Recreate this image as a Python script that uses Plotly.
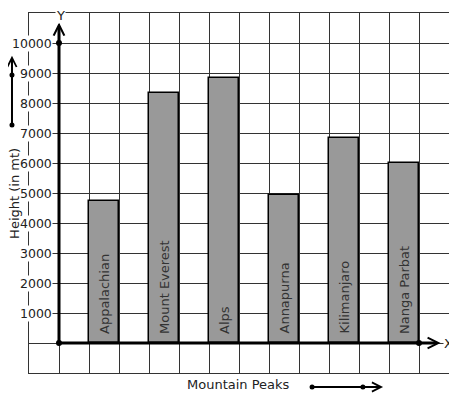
import plotly.graph_objects as go

# ---- data ----
peaks = ["Appalachian", "Mount Everest", "Alps", "Annapurna", "Kilimanjaro", "Nanga Parbat"]
heights = [4750, 8350, 8850, 4950, 6850, 6000]
y_tick_values = [1000, 2000, 3000, 4000, 5000, 6000, 7000, 8000, 9000, 10000]
y_tick_labels = ["1000", "2000", "3000", "4000", "5000", "6000", "7000", "8000", "9000", "10000"]
x_title = "Mountain Peaks"
y_title = "Height (in mt)"

FONT = "DejaVu Sans"
TXT = "#222222"

# bar centres on the grid: every other column
xpos = [1.5 + 2 * i for i in range(len(peaks))]

fig = go.Figure()
fig.add_trace(go.Bar(
    x=xpos, y=heights, width=1,
    marker=dict(color="#999999", line=dict(color="black", width=1.5)),
    hoverinfo="skip", showlegend=False,
))

# axis dots
fig.add_trace(go.Scatter(
    x=[0, 0, 12], y=[0, 10000, 0], mode="markers",
    marker=dict(color="black", size=6), cliponaxis=False,
    hoverinfo="skip", showlegend=False,
))

annotations = []
# y tick labels
for v, t in zip(y_tick_values, y_tick_labels):
    annotations.append(dict(
        x=0, y=v, xref="x", yref="y", text=t, showarrow=False,
        xanchor="right", yanchor="middle", xshift=-6,
        bgcolor="white", borderpad=0,
        font=dict(family=FONT, size=12.5, color=TXT),
    ))
# bar labels
for xp, name in zip(xpos, peaks):
    annotations.append(dict(
        x=xp, y=0, xref="x", yref="y", text=name, showarrow=False,
        textangle=-90, xanchor="center", yanchor="bottom", yshift=7,
        font=dict(family=FONT, size=13, color="#333333"),
    ))
# axis arrows
annotations.append(dict(
    x=0, y=10680, xref="x", yref="y", ax=0, ay=0, axref="x", ayref="y",
    text="", showarrow=True, arrowhead=5, arrowwidth=3, arrowsize=0.7,
    arrowcolor="black", standoff=0,
))
annotations.append(dict(
    x=12.72, y=0, xref="x", yref="y", ax=0, ay=0, axref="x", ayref="y",
    text="", showarrow=True, arrowhead=5, arrowwidth=3, arrowsize=0.7,
    arrowcolor="black", standoff=0,
))
# axis letters
annotations.append(dict(
    x=0.06, y=1.0, xref="x", yref="paper", text="Y", showarrow=False,
    xanchor="center", yanchor="middle", yshift=-2, bgcolor="white", borderpad=0,
    font=dict(family=FONT, size=13, color=TXT),
))
annotations.append(dict(
    x=12.97, y=0, xref="x", yref="y", text="X", showarrow=False,
    xanchor="center", yanchor="middle", bgcolor="white", borderpad=0,
    font=dict(family=FONT, size=13, color=TXT),
))
# axis titles
annotations.append(dict(
    x=-0.036, y=0.5, xref="paper", yref="paper", text=y_title, showarrow=False,
    textangle=-90, xanchor="center", yanchor="middle",
    font=dict(family=FONT, size=13, color=TXT),
))
annotations.append(dict(
    x=0.498, y=-0.033, xref="paper", yref="paper", text=x_title, showarrow=False,
    xanchor="center", yanchor="middle",
    font=dict(family=FONT, size=13, color=TXT),
))
# decorative side arrows
annotations.append(dict(
    x=-0.0405, y=0.881, xref="paper", yref="paper", ax=0, ay=70,
    text="", showarrow=True, arrowhead=5, arrowwidth=2, arrowsize=0.9,
    arrowcolor="black", standoff=0,
))
annotations.append(dict(
    x=0.843, y=-0.0389, xref="paper", yref="paper", ax=-71, ay=0,
    text="", showarrow=True, arrowhead=5, arrowwidth=2, arrowsize=0.9,
    arrowcolor="black", standoff=0,
))

shapes = []
for (px, py) in [(-0.0405, 0.689), (-0.0405, 0.828), (0.674, -0.0389), (0.795, -0.0389)]:
    shapes.append(dict(
        type="circle", xref="paper", yref="paper", xsizemode="pixel", ysizemode="pixel",
        xanchor=px, yanchor=py, x0=-2.5, x1=2.5, y0=-2.5, y1=2.5,
        fillcolor="black", line=dict(color="black", width=0),
    ))

# the page body adds an 8px margin, so the figure is sized to the remaining window
fig.update_layout(
    width=449, height=391,
    margin=dict(l=21, r=8, t=5, b=26, pad=0),
    paper_bgcolor="white", plot_bgcolor="white",
    bargap=0,
    xaxis=dict(range=[-1, 13], tick0=0, dtick=1, showgrid=True, gridcolor="#333333",
               gridwidth=1, zeroline=False, showticklabels=False, ticks="",
               showline=True, mirror=True, linecolor="#333333", linewidth=1,
               fixedrange=True),
    yaxis=dict(range=[-1000, 11000], tick0=0, dtick=1000, showgrid=True, gridcolor="#333333",
               gridwidth=1, zeroline=False, showticklabels=False, ticks="",
               showline=True, mirror=True, linecolor="#333333", linewidth=1,
               fixedrange=True),
    annotations=annotations,
    shapes=shapes,
    font=dict(family=FONT),
)

fig.write_html("out.html")
